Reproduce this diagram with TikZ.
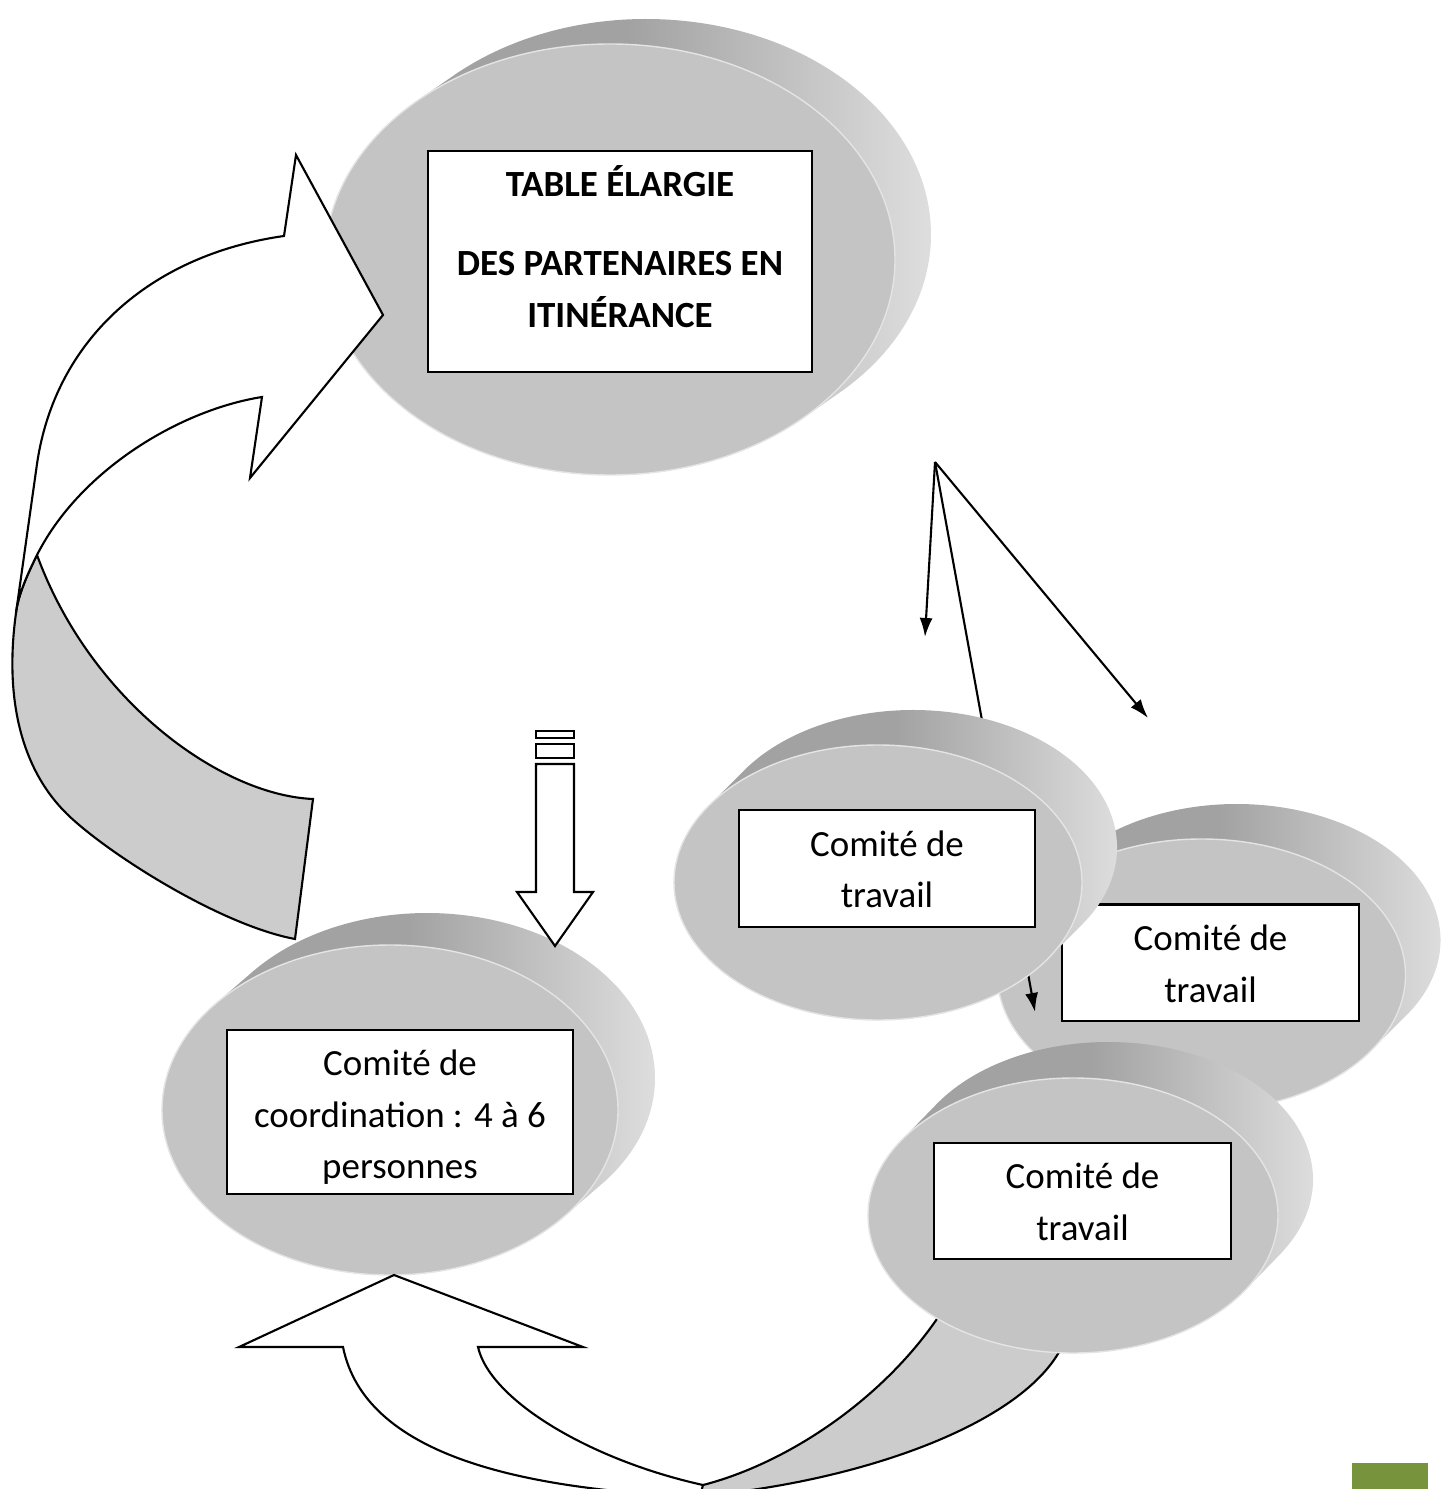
\documentclass[tikz,border=0pt]{standalone}
\usepackage{fontspec}
\setmainfont{Carlito}
\usetikzlibrary{calc,arrows.meta,positioning}
\definecolor{facegray}{RGB}{196,196,196}
\definecolor{rimdark}{RGB}{162,162,162}
\definecolor{rimlight}{RGB}{228,228,228}
\definecolor{bandgray}{RGB}{204,204,204}
\definecolor{pagegreen}{RGB}{119,147,60}
\def\cfont{\fontsize{10.5}{14.65}\selectfont}
\def\disc(#1,#2)(#3:#4)(#5,#6){%
	\pgfmathsetmacro\discang{atan2(-(#5)*(#4),(#6)*(#3))}%
	\shade[left color=rimdark, right color=rimlight, middle color=rimdark] ($({#1+(#5)},{#2+(#6)})+(\discang:#3 and #4)$) arc[start angle=\discang, delta angle=180, x radius=#3, y radius=#4] -- ($(#1,#2)+(\discang+180:#3 and #4)$) arc[start angle=\discang+180, delta angle=180, x radius=#3, y radius=#4] -- cycle;%
	\fill[facegray, draw=white!55!facegray, line width=0.4pt] (#1,#2) ellipse (#3 and #4);}
\tikzset{
	cbox/.style={draw, fill=white, line width=0.6pt, inner sep=0pt},
	boxtext/.style={align=center, inner sep=0pt, font=\cfont},
	arrowface/.style={draw, fill=white, line width=0.6pt},
	arrowside/.style={draw, fill=bandgray, line width=0.6pt},
	link/.style={line width=0.6pt, -{Latex[length=0.19cm,width=0.13cm]}}
}

\begin{document}
\begin{tikzpicture}[x=0.01cm, y=-0.01cm]
		%%%%% START %%%%%
		\useasboundingbox (0,0) rectangle (1449,1489);
		\clip (0,0) rectangle (1449,1489);
		
		\disc(610,259.5)(285:215.5)(36,-25)
		\node[cbox, minimum width=3.84cm, minimum height=2.21cm] (table) at (620,261.5) {};
		\node[boxtext, font=\cfont\bfseries, anchor=base] (tabletext) at ([yshift=-1.775cm]table.north) {TABLE ÉLARGIE\\[0.275cm]DES PARTENAIRES EN\\ITINÉRANCE};
		
		\draw[arrowside] (37,555) .. controls (28,573) and (18,595) .. (16,613) .. controls (4,700) and (22,770) .. (67,814) .. controls (107,853) and (220,925) .. (295,939) -- (313,799) .. controls (220,795) and (90,700) .. (37,555) -- cycle;
		\draw[arrowface] (16,613) -- (37,464) .. controls (55,340) and (150,255) .. (284,236) -- (296,155) -- (383,315) -- (250,478) -- (262,397) .. controls (180,410) and (80,470) .. (37,555) .. controls (28,573) and (18,595) .. (16,613) -- cycle;
		
		\disc(390,1110)(228:165)(37,-32)
		\node[cbox, minimum width=3.46cm, minimum height=1.64cm] (coord) at (400,1112) {};
		\begin{scope}
			\clip ([yshift=0.11cm]coord.south west) rectangle (coord.north east);
			\node[boxtext, anchor=base] (coordtext) at ([yshift=-1.5cm]coord.north) {Comité de\\coordination : 4 à 6\\personnes};
		\end{scope}
		
		\draw[arrowface] (536,731) rectangle (574,738);
		\draw[arrowface] (536,744) rectangle (574,758);
		\draw[arrowface] (536,764) -- (536,892) -- (517,892) -- (555,946) -- (593,892) -- (574,892) -- (574,764) -- cycle;
		
		\draw[arrowface] (394,1275) -- (239,1347) -- (343,1347) .. controls (365,1455) and (520,1490) .. (705,1497) -- (703,1485) .. controls (590,1460) and (490,1400) .. (478,1347) -- (583,1347) -- cycle;
		\draw[arrowside] (703,1485) .. controls (800,1460) and (910,1380) .. (960,1280) -- (1070,1320) .. controls (1060,1410) and (880,1480) .. (700,1496) -- cycle;
		
		\disc(1201.5,975)(204:136)(35,-35)
		\node[cbox, minimum width=2.97cm, minimum height=1.165cm] (work2) at (1210.5,962.8) {};
		\node[boxtext, anchor=base] (work2text) at ([yshift=-0.985cm]work2.north) {Comité de\\travail};
		
		\coordinate (fork) at (935,462);
		\coordinate (forkL) at (925,637);
		\coordinate (forkM) at (1035,1012);
		\coordinate (forkR) at (1148,718);
		\draw[link] (fork) -- (forkM);
		
		\disc(878,882.5)(204:137.5)(35,-35)
		\node[cbox, minimum width=2.96cm, minimum height=1.165cm] (work1) at (887,868.3) {};
		\node[boxtext, anchor=base] (work1text) at ([yshift=-0.985cm]work1.north) {Comité de\\travail};
		
		\disc(1073,1215.5)(205:137.5)(35,-36)
		\node[cbox, minimum width=2.96cm, minimum height=1.165cm] (work3) at (1082.5,1201) {};
		\node[boxtext, anchor=base] (work3text) at ([yshift=-0.985cm]work3.north) {Comité de\\travail};
		
		\draw[link] (fork) -- (forkL);
		\draw[link] (fork) -- (forkR);
		
		\fill[pagegreen] (1352,1463) rectangle (1428,1489);
		%%%%% END %%%%%
\end{tikzpicture}
\end{document}
